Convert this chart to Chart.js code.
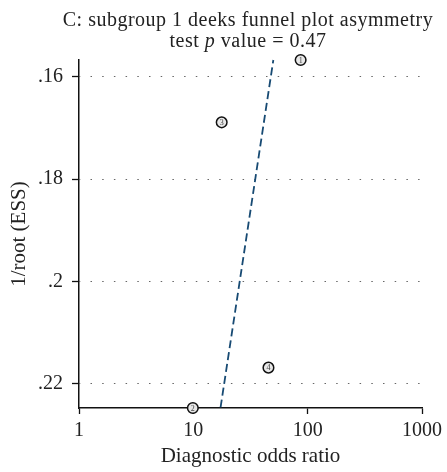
<!DOCTYPE html>
<html lang="en">
<head>
<meta charset="UTF-8">
<title>Deeks funnel plot</title>
<script src="https://cdn.jsdelivr.net/npm/chart.js@4"></script>
<style>
  body { margin: 0; background: #fff; }
  .wrap { position: relative; width: 447px; height: 472px; overflow: hidden; }
  .title {
    position: absolute;
    left: 50px;
    width: 396px;
    top: 9px;
    text-align: center;
    font-family: 'Liberation Serif', serif;
    font-size: 20px;
    line-height: 20.5px;
    letter-spacing: 0.5px;
    color: #222;
  }
  canvas { position: absolute; left: 0; top: 0; }
</style>
</head>
<body>
<div class="wrap">
  <canvas id="chart" width="447" height="472"></canvas>
  <div class="title">C: subgroup 1 deeks funnel plot asymmetry<br>test <i>p</i> value = 0.47</div>
</div>
<script>
// Study points: diagnostic odds ratio vs 1/root(ESS)
const studyLabels = ['1', '2', '3', '4'];
const studyDOR = [86.8, 9.9, 17.7, 45.4];
const studyESS = [0.1567, 0.2248, 0.1689, 0.2169];

// Regression line end points
const fitDOR = [17.3, 50.1];
const fitESS = [0.2247, 0.1567];

// Axis ticks
const xTicks = [1, 10, 100, 1000];
const yTicks = [0.16, 0.18, 0.2, 0.22];
const yMin = 0.1567;
const yMax = 0.2248;

const serif = "'Liberation Serif', serif";

// numbers inside the circles
const pointNumbers = {
  id: 'pointNumbers',
  afterDatasetsDraw(chart) {
    const meta = chart.getDatasetMeta(1);
    const ctx = chart.ctx;
    ctx.save();
    ctx.font = '8px ' + serif;
    ctx.fillStyle = '#444';
    ctx.textAlign = 'center';
    ctx.textBaseline = 'middle';
    meta.data.forEach((pt, i) => {
      ctx.fillText(studyLabels[i], pt.x, pt.y + 0.5);
    });
    ctx.restore();
  }
};

new Chart(document.getElementById('chart'), {
  type: 'scatter',
  data: {
    datasets: [
      {
        type: 'line',
        data: fitDOR.map((x, i) => ({ x, y: fitESS[i] })),
        borderColor: '#174a73',
        borderWidth: 1.8,
        borderDash: [8, 4],
        pointRadius: 0,
        fill: false,
        clip: false
      },
      {
        data: studyDOR.map((x, i) => ({ x, y: studyESS[i] })),
        pointRadius: 5.3,
        pointHoverRadius: 5.3,
        borderWidth: 1.5,
        borderColor: '#111',
        backgroundColor: '#e8e8e8',
        clip: false
      }
    ]
  },
  options: {
    responsive: false,
    animation: false,
    layout: { padding: { top: 60, right: 21, bottom: 0, left: 0 } },
    plugins: {
      legend: { display: false },
      tooltip: { enabled: false }
    },
    scales: {
      x: {
        type: 'logarithmic',
        min: 1,
        max: 1000,
        afterBuildTicks: s => { s.ticks = xTicks.map(v => ({ value: v })); },
        afterFit: s => { s.height = 64; },
        grid: { drawOnChartArea: false, tickLength: 6, tickColor: '#111', tickWidth: 1.3 },
        border: { color: '#111', width: 1.5 },
        ticks: {
          padding: 5,
          color: '#222',
          font: { family: serif, size: 20 },
          callback: v => String(v)
        },
        title: {
          display: true,
          text: 'Diagnostic odds ratio',
          color: '#222',
          font: { family: serif, size: 21 },
          padding: { top: 0, bottom: 3 }
        }
      },
      y: {
        reverse: true,
        min: yMin,
        max: yMax,
        afterBuildTicks: s => { s.ticks = yTicks.map(v => ({ value: v })); },
        afterFit: s => { s.width = 79; },
        grid: { color: '#666', lineWidth: 1, tickLength: 7, tickColor: '#111', tickWidth: 1.3 },
        border: { color: '#111', width: 1.5, dash: [1.5, 10.2], dashOffset: 0.7 },
        ticks: {
          padding: 9,
          color: '#222',
          font: { family: serif, size: 20 },
          callback: v => String(v).replace(/^0/, '')
        },
        title: {
          display: true,
          text: '1/root (ESS)',
          color: '#222',
          font: { family: serif, size: 21 },
          padding: { top: 7, bottom: 0 }
        }
      }
    }
  },
  plugins: [pointNumbers]
});
</script>
</body>
</html>
